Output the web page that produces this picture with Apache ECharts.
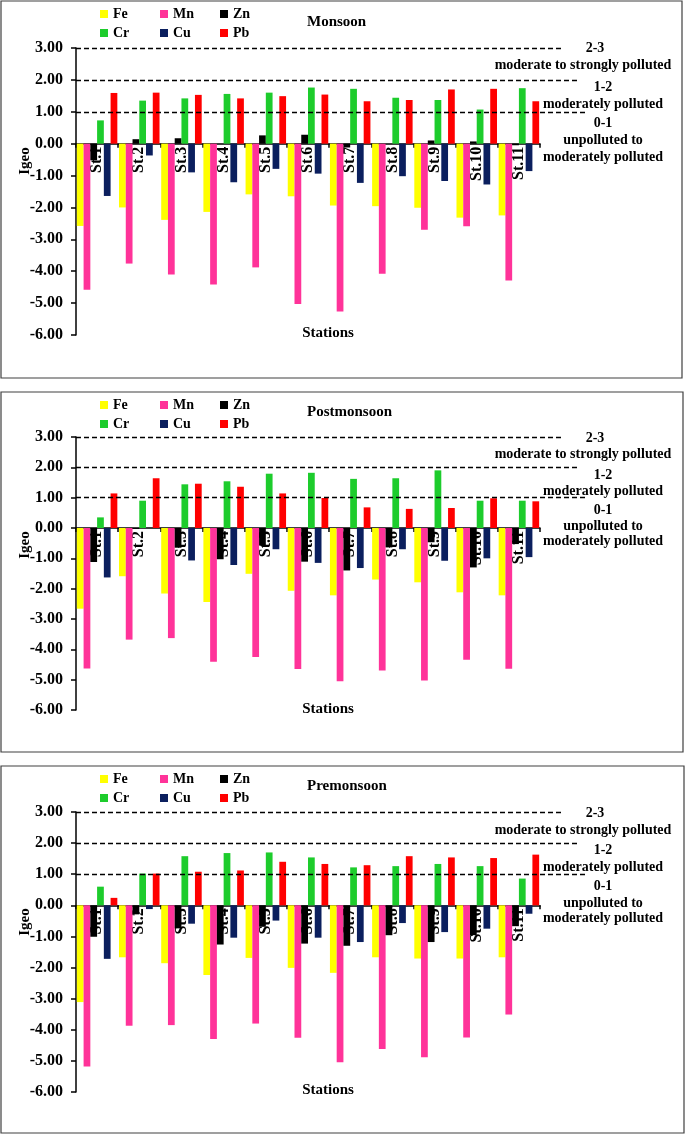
<!DOCTYPE html>
<html><head><meta charset="utf-8">
<script src="https://cdn.jsdelivr.net/npm/echarts@6/dist/echarts.min.js"></script>
<style>html,body{margin:0;padding:0;background:#fff}#c{width:685px;height:1135px}</style>
</head><body><div id="c"></div>
<script>
// ---------- DATA ----------
const stations = ['St.1','St.2','St.3','St.4','St.5','St.6','St.7','St.8','St.9','St.10','St.11'];
const metals = ['Fe','Mn','Zn','Cr','Cu','Pb'];
const seasons = ['Monsoon','Postmonsoon','Premonsoon'];
const yTickMin = -6, yTickMax = 3, yTickStep = 1;
const thresholds = [3, 2, 1];
const classTop = ['2-3', 'moderate to strongly polluted'];
const classMid = ['1-2', 'moderately polluted'];
const classLow = ['0-1', 'unpolluted to', 'moderately polluted'];

const monsoonFe = [-2.58,-2.00,-2.39,-2.14,-1.59,-1.65,-1.94,-1.96,-2.01,-2.32,-2.25];
const monsoonMn = [-4.58,-3.76,-4.10,-4.42,-3.88,-5.03,-5.26,-4.08,-2.70,-2.59,-4.29];
const monsoonZn = [-0.52,0.14,0.17,0.00,0.26,0.28,-0.12,0.00,0.10,0.07,-0.05];
const monsoonCr = [0.73,1.35,1.42,1.56,1.60,1.76,1.72,1.44,1.37,1.07,1.74];
const monsoonCu = [-1.64,-0.37,-0.90,-1.21,-0.79,-0.94,-1.23,-1.02,-1.17,-1.28,-0.86];
const monsoonPb = [1.59,1.60,1.53,1.42,1.49,1.54,1.33,1.37,1.70,1.72,1.33];

const postFe = [-2.66,-1.59,-2.16,-2.44,-1.51,-2.07,-2.22,-1.70,-1.79,-2.12,-2.22];
const postMn = [-4.63,-3.68,-3.63,-4.41,-4.25,-4.65,-5.05,-4.70,-5.03,-4.34,-4.64];
const postZn = [-1.12,-0.03,-0.65,-1.03,-0.58,-1.11,-1.40,-0.64,-0.47,-1.30,-0.53];
const postCr = [0.35,0.90,1.44,1.54,1.79,1.82,1.62,1.64,1.90,0.90,0.90];
const postCu = [-1.63,0.00,-1.07,-1.22,-0.70,-1.15,-1.32,-0.70,-1.08,-1.00,-0.96];
const postPb = [1.14,1.64,1.46,1.36,1.14,0.99,0.68,0.63,0.66,0.98,0.88];

const preFe = [-3.11,-1.67,-1.86,-2.24,-1.69,-2.01,-2.17,-1.67,-1.71,-1.71,-1.67];
const preMn = [-5.18,-3.87,-3.85,-4.30,-3.80,-4.26,-5.04,-4.62,-4.88,-4.25,-3.51];
const preZn = [-1.01,-0.29,-0.74,-1.26,-0.69,-1.23,-1.30,-0.96,-1.18,-0.96,-0.67];
const preCr = [0.60,1.02,1.58,1.68,1.70,1.54,1.22,1.26,1.33,1.26,0.86];
const preCu = [-1.72,-0.12,-0.59,-1.04,-0.49,-1.04,-1.18,-0.57,-0.86,-0.75,-0.27];
const prePb = [0.24,1.02,1.08,1.12,1.40,1.33,1.29,1.58,1.54,1.52,1.63];

const seasonData = [
  [monsoonFe, monsoonMn, monsoonZn, monsoonCr, monsoonCu, monsoonPb],
  [postFe, postMn, postZn, postCr, postCu, postPb],
  [preFe, preMn, preZn, preCr, preCu, prePb]
];

// ---------- STYLE / LAYOUT ----------
const FONT = "'Liberation Serif','Times New Roman',serif";
const colors = {Fe:'#FFFF00', Mn:'#FF3399', Zn:'#000000', Cr:'#1DCC2C', Cu:'#0B1F5E', Pb:'#FF0000'};
const panels = [
  {box:[1,1,681,377],   gridTop:48,  gridH:287, legendTop:7,   titleTop:15,  labelY:[48,65,87,104,123,140,157], igeoY:161,  stationsY:333},
  {box:[1,392,682,360], gridTop:437, gridH:273, legendTop:398, titleTop:405, labelY:[438,454,475,491,510,526,541], igeoY:545, stationsY:709},
  {box:[1,766,683,367], gridTop:812, gridH:280, legendTop:772, titleTop:779, labelY:[813,830,850,867,886,903,918], igeoY:922, stationsY:1090}
];
const gridLeft = 76, gridW = 464;
const lineEnds = [561, 579, 587];

const option = {
  animation: false,
  backgroundColor: '#fff',
  textStyle: {fontFamily: FONT},
  grid: [], xAxis: [], yAxis: [], series: [], legend: [], title: [], graphic: []
};

panels.forEach((p, pi) => {
  // place the category axis at the value-axis zero
  const zeroOffset = -p.gridH * (0 - yTickMin) / (yTickMax - yTickMin);
  option.grid.push({left: gridLeft, top: p.gridTop, width: gridW, height: p.gridH, containLabel: false});
  option.xAxis.push({
    type: 'category', gridIndex: pi, data: stations, position: 'bottom', offset: zeroOffset,
    axisLine: {onZero: false, lineStyle: {color: '#000', width: 1.5}},
    axisTick: {show: true, length: 4, interval: 0, lineStyle: {color: '#000', width: 1.5}},
    axisLabel: {interval: 0, rotate: 90, margin: 3, color: '#000', fontFamily: FONT, fontWeight: 'bold', fontSize: 16},
    splitLine: {show: false}, z: 0
  });
  option.yAxis.push({
    type: 'value', gridIndex: pi, min: yTickMin, max: yTickMax, interval: yTickStep,
    axisLine: {show: true, lineStyle: {color: '#000', width: 1.5}},
    axisTick: {show: true, length: 5, lineStyle: {color: '#000', width: 1.5}},
    axisLabel: {margin: 13, color: '#000', fontFamily: FONT, fontWeight: 'bold', fontSize: 16,
      formatter: v => v.toFixed(2)},
    splitLine: {show: false}
  });
  metals.forEach((m, mi) => {
    const s = {
      type: 'bar', name: m, xAxisIndex: pi, yAxisIndex: pi,
      data: seasonData[pi][mi],
      itemStyle: {color: colors[m]},
      barGap: '0%', barCategoryGap: '4%'
    };
    if (mi === 0) {
      s.markLine = {
        silent: true, symbol: ['none','none'], label: {show: false},
        lineStyle: {color: '#000', type: [5,3], width: 1.3},
        data: thresholds.map((t, ti) => [{yAxis: t, x: gridLeft}, {yAxis: t, x: lineEnds[ti]}])
      };
    }
    option.series.push(s);
  });
  // legends: three columns of two items
  [[ 'Fe','Cr'], ['Mn','Cu'], ['Zn','Pb']].forEach((col, ci) => {
    option.legend.push({
      data: col, orient: 'vertical', left: 100 + ci * 60, top: p.legendTop, padding: 0,
      itemWidth: 8, itemHeight: 8, itemGap: 5, icon: 'rect', selectedMode: false,
      textStyle: {fontFamily: FONT, fontWeight: 'bold', fontSize: 14, color: '#000'}
    });
  });
  option.title.push({text: seasons[pi], left: 307, top: p.titleTop, padding: 0,
    textStyle: {fontFamily: FONT, fontWeight: 'bold', fontSize: 15, color: '#000'}});
  // border
  option.graphic.push({type: 'rect', shape: {x: p.box[0], y: p.box[1], width: p.box[2], height: p.box[3]},
    style: {fill: 'none', stroke: '#404040', lineWidth: 1.2}, silent: true});
  // class labels
  const lbls = [
    [classTop[0], 595], [classTop[1], 583],
    [classMid[0], 603], [classMid[1], 603],
    [classLow[0], 603], [classLow[1], 603], [classLow[2], 603]
  ];
  lbls.forEach((l, li) => {
    option.graphic.push({type: 'text', x: l[1], y: p.labelY[li], silent: true,
      style: {text: l[0], fontFamily: FONT, fontWeight: 'bold', fontSize: 14, fill: '#000',
        align: 'center', verticalAlign: 'middle'}});
  });
  option.graphic.push({type: 'text', x: 25, y: p.igeoY, rotation: Math.PI/2, silent: true,
    style: {text: 'Igeo', fontFamily: FONT, fontWeight: 'bold', fontSize: 15, fill: '#000',
      align: 'center', verticalAlign: 'middle'}});
  option.graphic.push({type: 'text', x: 328, y: p.stationsY, silent: true,
    style: {text: 'Stations', fontFamily: FONT, fontWeight: 'bold', fontSize: 15, fill: '#000',
      align: 'center', verticalAlign: 'middle'}});
});

const chart = echarts.init(document.getElementById('c'), null, {renderer: 'canvas'});
chart.setOption(option);
</script>
</body></html>
